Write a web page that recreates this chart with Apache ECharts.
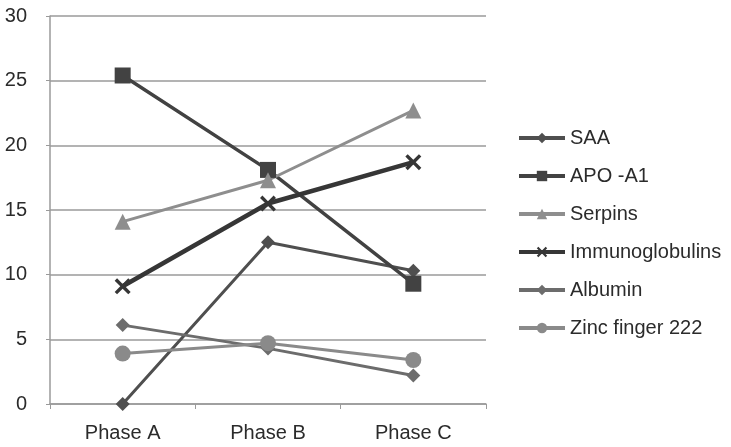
<!DOCTYPE html>
<html lang="en">
<head>
    <meta charset="UTF-8">
    <title>Phase chart</title>
    <script src="https://cdn.jsdelivr.net/npm/echarts@6/dist/echarts.min.js"></script>
    <style>
        body { margin: 0; background: #fff; }
        #main { width: 731px; height: 447px; }
    </style>
</head>
<body>
<div id="main"></div>
<script type="text/javascript">
    var phases = ['Phase A', 'Phase B', 'Phase C'];
    var names = ['SAA', 'APO -A1', 'Serpins', 'Immunoglobulins', 'Albumin', 'Zinc finger 222'];
    var saa = [0, 12.5, 10.3];
    var apoA1 = [25.4, 18.1, 9.3];
    var serpins = [14.1, 17.3, 22.7];
    var immuno = [9.1, 15.5, 18.7];
    var albumin = [6.1, 4.3, 2.2];
    var zinc = [3.9, 4.7, 3.4];

    // X marker for Immunoglobulins
    var crossPath = 'path://M0,1.5 L1.5,0 L5,3.5 L8.5,0 L10,1.5 L6.5,5 L10,8.5 L8.5,10 L5,6.5 L1.5,10 L0,8.5 L3.5,5 Z';

    function line(name, data, color, symbol, size, width) {
        return {
            name: name,
            type: 'line',
            data: data,
            symbol: symbol,
            symbolSize: size,
            showSymbol: true,
            lineStyle: { color: color, width: width },
            itemStyle: { color: color },
            emphasis: { disabled: true }
        };
    }

    var myChart = echarts.init(document.getElementById('main'));
    myChart.setOption({
        animation: false,
        textStyle: { fontFamily: 'Liberation Sans, Arial, sans-serif' },
        grid: { left: 50, right: 245, top: 16, bottom: 43 },
        legend: {
            orient: 'vertical',
            left: 512,
            top: 123,
            itemGap: 18,
            itemWidth: 46,
            itemHeight: 13,
            data: names,
            lineStyle: { width: 4 },
            textStyle: { fontSize: 20, color: '#2b2b2b' }
        },
        xAxis: {
            type: 'category',
            data: phases,
            axisLine: { lineStyle: { color: '#9a9a9a', width: 1.5 } },
            axisTick: { show: true, length: 5, lineStyle: { color: '#9a9a9a' } },
            axisLabel: { fontSize: 20, color: '#2b2b2b', margin: 19 }
        },
        yAxis: {
            type: 'value',
            min: 0,
            max: 30,
            interval: 5,
            axisLine: { show: true, lineStyle: { color: '#9a9a9a', width: 1.5 } },
            axisTick: { show: true, length: 4, lineStyle: { color: '#9a9a9a' } },
            axisLabel: { fontSize: 20, color: '#2b2b2b', margin: 23 },
            splitLine: { lineStyle: { color: '#9a9a9a', width: 1.5 } }
        },
        series: [
            line(names[0], saa, '#4f4f4f', 'diamond', 14, 3),
            line(names[1], apoA1, '#424242', 'rect', 16, 3.5),
            line(names[2], serpins, '#8e8e8e', 'triangle', 16, 3),
            line(names[3], immuno, '#363636', crossPath, 16, 4.5),
            line(names[4], albumin, '#6c6c6c', 'diamond', 14, 3),
            line(names[5], zinc, '#8a8a8a', 'circle', 16, 3)
        ]
    });
</script>
</body>
</html>
